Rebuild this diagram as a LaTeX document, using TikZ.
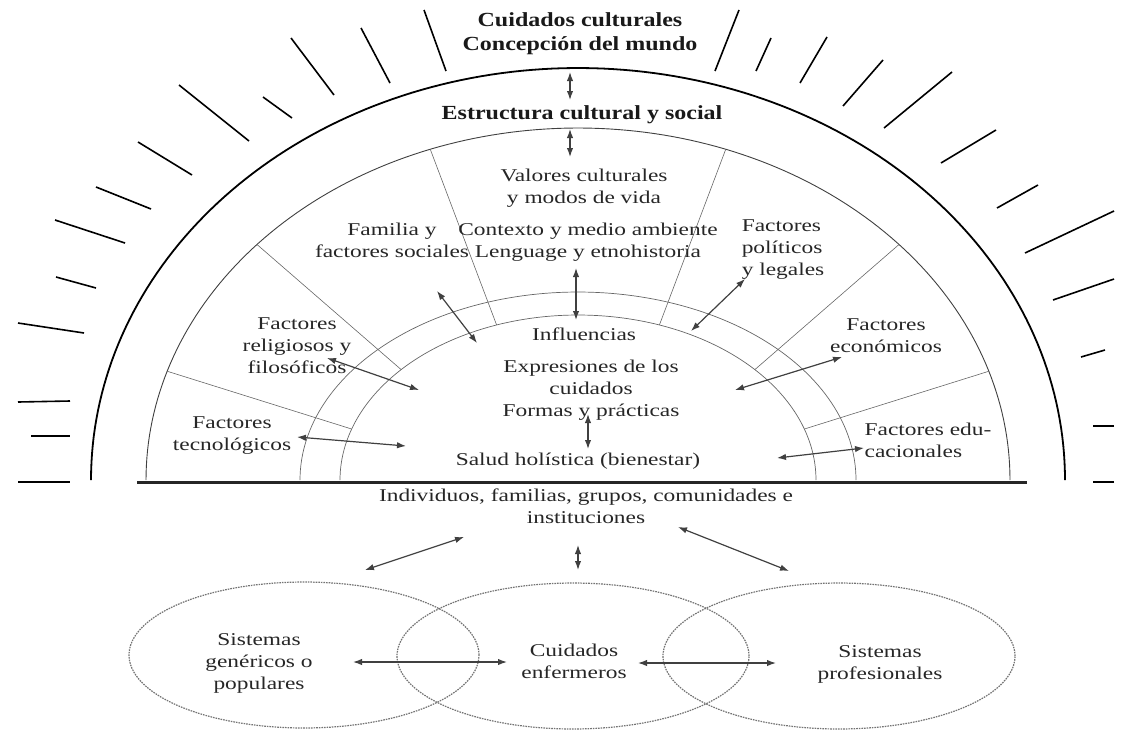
\documentclass[tikz,border=0pt]{standalone}
\usepackage{fontspec}
\setmainfont{Liberation Serif}
\usetikzlibrary{arrows.meta}

\begin{document}
\begin{tikzpicture}[
  x=0.5pt, y=-0.5pt,
  lbl/.style={align=center, inner sep=0pt, xscale=1.3, text=black!85, font=\fontsize{9}{11}\selectfont},
  ttl/.style={align=center, inner sep=0pt, xscale=1.2, text=black!90, font=\fontsize{10}{12}\selectfont\bfseries},
  outer/.style={line width=0.9pt},
  ring/.style={line width=0.45pt, black!75},
  inner/.style={line width=0.35pt, black!60},
  divider/.style={line width=0.3pt, black!60},
  base/.style={line width=1.5pt, black!85},
  tick/.style={line width=0.8pt},
  venn/.style={line width=0.6pt, black!55, dash pattern=on 0.8pt off 0.5pt},
  dbl/.style={{Latex[length=4.5pt,width=3.2pt]}-{Latex[length=4.5pt,width=3.2pt]}, line width=0.6pt, black!75}
]
\useasboundingbox (0,0) rectangle (1128,734);

\draw[outer] plot[domain=0:180, samples=150] ({578+487*cos(\x)},{480-412*sin(\x)});
\draw[ring] plot[domain=0:180, samples=150] ({578+432*cos(\x)},{480-352*sin(\x)});
\draw[inner] plot[domain=0:180, samples=120] ({578+278*cos(\x)},{480-188*sin(\x)});
\draw[inner] plot[domain=0:180, samples=120] ({578+238*cos(\x)},{480-165*sin(\x)});
\foreach \a in {18,42,70,110,138,162}
  \draw[divider] ({578+432*cos(\a)},{480-352*sin(\a)}) -- ({578+238*cos(\a)},{480-165*sin(\a)});
\draw[base] (137,482) -- (1027,482);

\foreach \xa/\ya/\xb/\yb in {424/10/446/71, 361/28/390/83, 291/38/334/95, 263/97/292/118,
  179/85/249/141, 138/142/192/175, 96/187/151/209, 55/220/125/243, 56/277/96/288,
  18/323/84/333, 18/402/70/401, 31/436/70/436, 18/482/70/482,
  739/10/715/71, 771/38/756/71, 827/37/800/83, 883/60/843/106, 952/72/884/128,
  996/130/941/163, 1038/185/997/208, 1114/211/1025/253, 1114/279/1053/300,
  1105/350/1081/357, 1114/426/1093/426, 1114/482/1093/482}
  \draw[tick] (\xa,\ya) -- (\xb,\yb);

\draw[venn] plot[domain=0:360, samples=120] ({304+175*cos(\x)},{655-73*sin(\x)});
\draw[venn] plot[domain=0:360, samples=120] ({573+176*cos(\x)},{656-73*sin(\x)});
\draw[venn] plot[domain=0:360, samples=120] ({839+176*cos(\x)},{656-73*sin(\x)});

\node[ttl] (cc) at (580,34) {Cuidados culturales\\Concepción del mundo};
\node[ttl] (es) at (582,115) {Estructura cultural y social};
\node[lbl] (vc) at (584,188) {Valores culturales\\y modos de vida};
\node[lbl] (cm) at (588,242) {Contexto y medio ambiente\\Lenguage y etnohistoria};
\node[lbl] (fs) at (392,240) {Familia y\\factores sociales};
\node[lbl, align=left] (fp) at (783,250) {Factores\\políticos\\y legales};
\node[lbl] (fr) at (297,346) {Factores\\religiosos y\\filosóficos};
\node[lbl] (fe) at (886,336) {Factores\\económicos};
\node[lbl] (ft) at (232,436) {Factores\\tecnológicos};
\node[lbl, align=left] (fed) at (928,440) {Factores edu-\\cacionales};
\node[lbl] (inf) at (584,334) {Influencias};
\node[lbl] (ex) at (591,390) {Expresiones de los\\cuidados\\Formas y prácticas};
\node[lbl] (sh) at (578,461) {Salud holística (bienestar)};
\node[lbl] (ind) at (586,506) {Individuos, familias, grupos, comunidades e\\instituciones};
\node[lbl] (sg) at (259,663) {Sistemas\\genéricos o\\populares};
\node[lbl] (ce) at (574,661) {Cuidados\\enfermeros};
\node[lbl] (sp) at (880,664) {Sistemas\\profesionales};

\coordinate (cc-s) at (570,72);   \coordinate (es-n) at (570,100);
\coordinate (es-s) at (570,129);  \coordinate (vc-n) at (570,157);
\coordinate (cm-s) at (576,268);  \coordinate (inf-n) at (576,320);
\coordinate (ex-s) at (588,414);  \coordinate (sh-n) at (588,449);
\coordinate (fs-a) at (437,291);  \coordinate (fs-b) at (477,343);
\coordinate (fp-a) at (745,279);  \coordinate (fp-b) at (691,331);
\coordinate (fr-a) at (327,358);  \coordinate (fr-b) at (419,390);
\coordinate (fe-a) at (842,357);  \coordinate (fe-b) at (735,390);
\coordinate (ft-a) at (297,437);  \coordinate (ft-b) at (406,446);
\coordinate (fed-a) at (864,448); \coordinate (fed-b) at (777,458);
\coordinate (ind-l) at (464,537); \coordinate (sg-n) at (365,570);
\coordinate (ind-r) at (678,527); \coordinate (sp-n) at (789,571);
\coordinate (ind-s) at (578,545); \coordinate (ce-n) at (578,570);
\coordinate (sg-e) at (353,662);  \coordinate (ce-w) at (507,662);
\coordinate (ce-e) at (638,663);  \coordinate (sp-w) at (776,663);

\draw[dbl] (cc-s) -- (es-n);
\draw[dbl] (es-s) -- (vc-n);
\draw[dbl] (cm-s) -- (inf-n);
\draw[dbl] (ex-s) -- (sh-n);
\draw[dbl] (fs-a) -- (fs-b);
\draw[dbl] (fp-a) -- (fp-b);
\draw[dbl] (fr-a) -- (fr-b);
\draw[dbl] (fe-a) -- (fe-b);
\draw[dbl] (ft-a) -- (ft-b);
\draw[dbl] (fed-a) -- (fed-b);
\draw[dbl] (ind-l) -- (sg-n);
\draw[dbl] (ind-r) -- (sp-n);
\draw[dbl] (ind-s) -- (ce-n);
\draw[dbl] (sg-e) -- (ce-w);
\draw[dbl] (ce-e) -- (sp-w);
\end{tikzpicture}
\end{document}
